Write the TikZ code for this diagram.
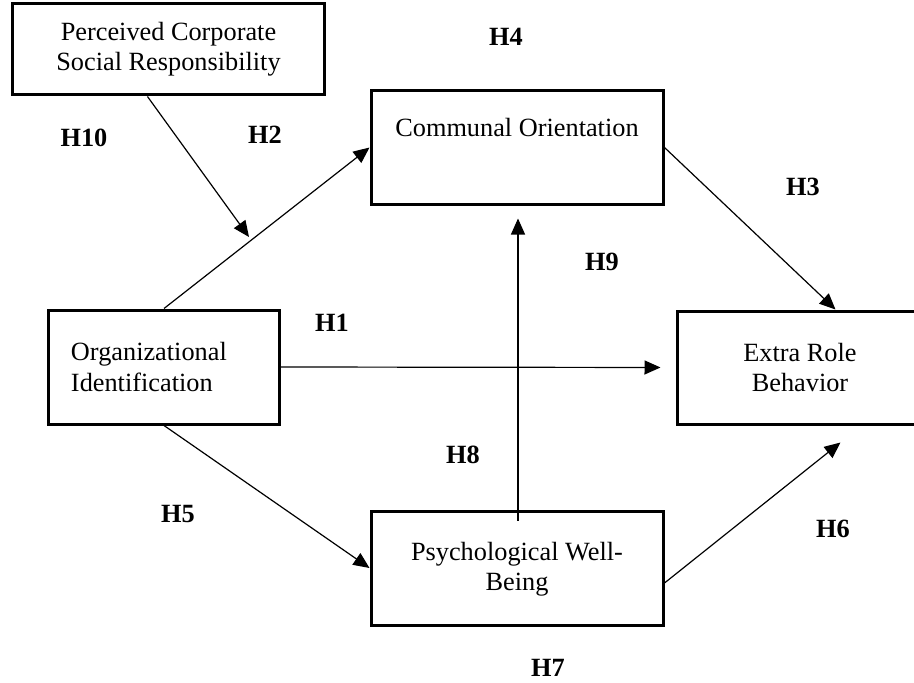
\documentclass[tikz,border=0pt]{standalone}
\usepackage{fontspec}
\setmainfont{Liberation Serif}
\usetikzlibrary{arrows.meta,calc}
\begin{document}
\begin{tikzpicture}[x=1bp,y=-1bp,
  box/.style={draw, line width=3bp, inner sep=0pt, align=center,
    font=\fontsize{26.4}{30.5}\selectfont},
  hyp/.style={inner sep=0pt, font=\fontsize{26.4}{30.5}\selectfont\bfseries},
  arr/.style={line width=1.2bp, -{Triangle[length=16bp,width=14bp]}}]
\useasboundingbox (0,0) rectangle (914,683);
\clip (0,0) rectangle (914,683);
\fill[white] (0,0) rectangle (914,683);
% boxes
\node[box, minimum width=311bp, minimum height=91bp] (pcsr) at (168.5,49.5) {Perceived Corporate\\Social Responsibility};
\node[box, minimum width=292bp, minimum height=113bp] (co) at (517,147.5) {Communal Orientation\\\strut};
\node[box, minimum width=230bp, minimum height=114bp, text width=186bp, align=left] (oi) at (164,367) {Organizational\\Identification};
\node[box, minimum width=246bp, minimum height=113bp] (erb) at (800,367.5) {Extra Role\\Behavior};
\node[box, minimum width=292bp, minimum height=114bp] (pwb) at (517,568) {\rule{0pt}{21bp}Psychological Well-\\Being};
% connectors
\coordinate (pcsrout) at ($(pcsr.south west)!0.433!(pcsr.south east)$);
\coordinate (modtip) at (249,237);
\draw[arr] (pcsrout) -- (modtip);
\draw[arr] (oi.north) -- (co.west);
\draw[arr] (co.east) -- ($(erb.north west)+(160,0)$);
\draw[arr, shorten >=15bp] (oi.east) -- (erb.west);
\draw[arr] (oi.south) -- (pwb.west);
\draw[arr] ($(pwb.east)+(0,15)$) -- ($(erb.south west)+(165,17)$);
\draw[arr, shorten >=13bp] ($(pwb.north)+(1,11)$) -- ($(co.south)+(1,0)$);
% hypothesis labels
\node[hyp] (h10) at (84,138) {H10};
\node[hyp] (h2) at (265,135) {H2};
\node[hyp] (h4) at (506,37) {H4};
\node[hyp] (h1) at (332,323) {H1};
\node[hyp] (h3) at (803,187) {H3};
\node[hyp] (h9) at (602,262) {H9};
\node[hyp] (h8) at (463,455) {H8};
\node[hyp] (h5) at (178,514) {H5};
\node[hyp] (h6) at (833,529) {H6};
\node[hyp] (h7) at (548,668) {H7};
\end{tikzpicture}
\end{document}
